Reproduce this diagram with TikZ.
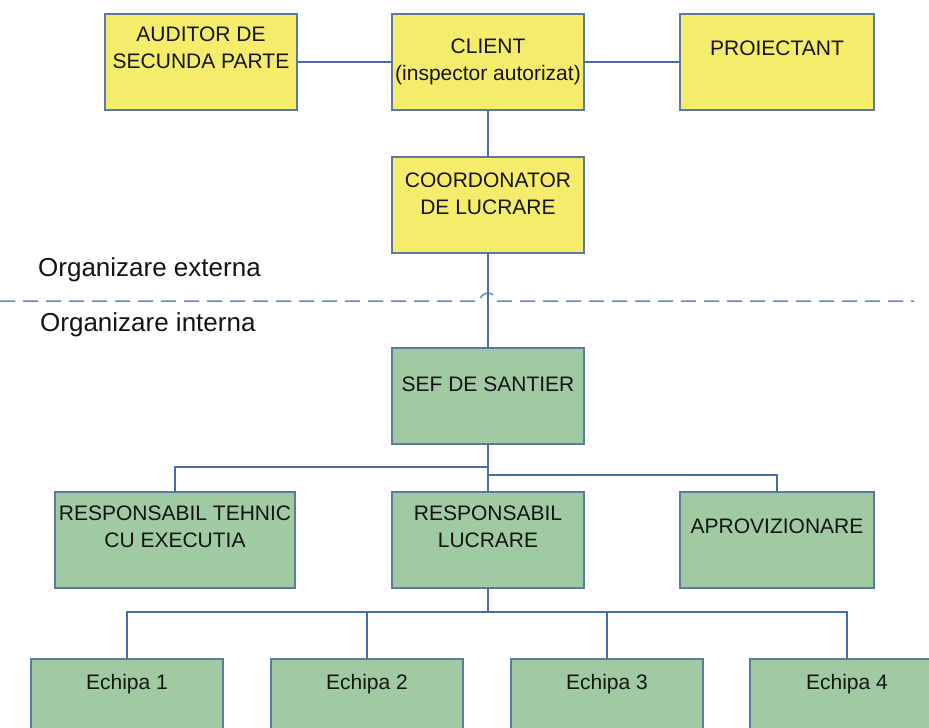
\documentclass[tikz,border=0pt]{standalone}
\usepackage{fontspec}
\setmainfont{Liberation Sans}
\definecolor{yfill}{RGB}{246,236,107}
\definecolor{gfill}{RGB}{160,202,162}
\definecolor{bord}{RGB}{92,122,160}
\definecolor{conn}{RGB}{72,106,170}
\definecolor{dash}{RGB}{95,138,202}
\definecolor{txtc}{RGB}{20,20,20}
\begin{document}
\begin{tikzpicture}[x=1pt,y=-1pt,
  box/.style={draw=bord,line width=1.3pt,inner sep=0pt,outer sep=0pt,anchor=north west},
  ybox/.style={box,fill=yfill},
  gbox/.style={box,fill=gfill},
  txt/.style={text=txtc,align=center,inner sep=0pt,font=\fontsize{21}{27}\selectfont},
  bigtxt/.style={text=txtc,inner sep=0pt,anchor=base west,font=\fontsize{26}{30}\selectfont},
  link/.style={draw=conn,line width=1.4pt}]
\useasboundingbox (0,0) rectangle (929,728);
\fill[white] (0,0) rectangle (929,728);
% top (external) boxes
\node[ybox,minimum width=192pt,minimum height=96pt] (aud) at (105,14) {};
\node[ybox,minimum width=192pt,minimum height=96pt] (cli) at (392,14) {};
\node[ybox,minimum width=194pt,minimum height=96pt] (pro) at (680,14) {};
\node[ybox,minimum width=192pt,minimum height=96pt] (coo) at (392,157) {};
% internal boxes
\node[gbox,minimum width=192pt,minimum height=96pt] (sef) at (392,348) {};
\node[gbox,minimum width=240pt,minimum height=96pt] (rt) at (55,492) {};
\node[gbox,minimum width=192pt,minimum height=96pt] (rl) at (392,492) {};
\node[gbox,minimum width=194pt,minimum height=96pt] (ap) at (680,492) {};
\node[gbox,minimum width=192pt,minimum height=100pt] (e1) at (31,659) {};
\node[gbox,minimum width=192pt,minimum height=100pt] (e2) at (271,659) {};
\node[gbox,minimum width=192pt,minimum height=100pt] (e3) at (511,659) {};
\node[gbox,minimum width=194pt,minimum height=100pt] (e4) at (750,659) {};
% texts
\node[txt] (audt) at (201,48) {AUDITOR DE\\SECUNDA PARTE};
\node[txt] (clit) at (488,62) {CLIENT\\(inspector autorizat)};
\node[txt] (prot) at (777,48) {PROIECTANT};
\node[txt] (coot) at (488,194) {COORDONATOR\\DE LUCRARE};
\node[txt] (seft) at (488,384) {SEF DE SANTIER};
\node[txt] (rtt) at (175,527) {RESPONSABIL TEHNIC\\CU EXECUTIA};
\node[txt] (rlt) at (488,527) {RESPONSABIL\\LUCRARE};
\node[txt] (apt) at (777,526) {APROVIZIONARE};
\node[txt] (e1t) at (127,684) {Echipa 1};
\node[txt] (e2t) at (367,684) {Echipa 2};
\node[txt] (e3t) at (607,684) {Echipa 3};
\node[txt] (e4t) at (847,684) {Echipa 4};
\node[bigtxt] (ext) at (38,276) {Organizare externa};
\node[bigtxt] (int) at (40,331) {Organizare interna};
% dashed separator with hop
\coordinate (dl) at (0,301);
\coordinate (dr) at (914,301);
\draw[draw=dash,line width=1.5pt,dash pattern=on 15pt off 8pt] (dl) -- (480,301) arc[start angle=180,end angle=360,radius=8] -- (dr);
% connectors
\draw[link] (aud.east) -- (cli.west);
\draw[link] (cli.east) -- (pro.west);
\draw[link] (cli.south) -- (coo.north);
\draw[link] (coo.south) -- (sef.north);
\coordinate (b1) at (488,467);
\coordinate (b2) at (488,475);
\coordinate (b3) at (488,612);
\draw[link] (sef.south) -- (rl.north);
\draw[link] (rt.north) |- (b1);
\draw[link] (ap.north) |- (b2);
\draw[link] (rl.south) -- (b3);
\draw[link] (e1.north) |- (b3);
\draw[link] (e2.north) |- (b3);
\draw[link] (e3.north) |- (b3);
\draw[link] (e4.north) |- (b3);
\end{tikzpicture}
\end{document}
